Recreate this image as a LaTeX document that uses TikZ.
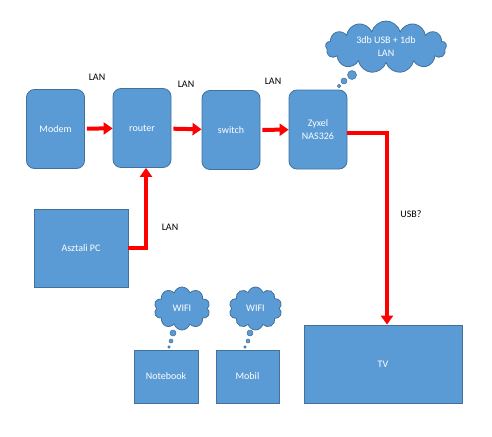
\documentclass[tikz,border=0pt]{standalone}
\usepackage{fontspec}
\setmainfont{Carlito}
\usetikzlibrary{arrows.meta, shapes.symbols, positioning, calc}
\definecolor{officeblue}{HTML}{5B9BD5}
\definecolor{officeedge}{HTML}{41719C}

\begin{document}
\begin{tikzpicture}[
	x=1pt, y=-1pt,
	devbox/.style={rectangle, draw=officeedge, line width=.8pt, fill=officeblue, text=white, rounded corners=8pt, minimum height=79pt, minimum width=58pt, inner sep=0pt, align=center, font=\fontsize{10}{13}\selectfont},
	flatbox/.style={devbox, rounded corners=0pt},
	thought/.style={cloud, cloud puffs=13, aspect=2.3, draw=officeedge, line width=.8pt, fill=officeblue, text=white, inner sep=0pt, align=center, font=\fontsize{10}{13}\selectfont},
	bubble/.style={circle, draw=officeedge, line width=.5pt, fill=officeblue, inner sep=0pt},
	arrow/.style={-{Triangle[length=9pt, width=12pt]}, red, line width=4pt},
	lbl/.style={font=\fontsize{10}{12}\selectfont, inner sep=0pt}
	]
	\useasboundingbox (0,0) rectangle (492,436);

	\node[devbox] (modem) at (55.5,129) {Modem};
	\node[devbox] (router) at (142,128) {router};
	\node[devbox] (switch) at (231,130) {switch};
	\node[devbox] (zyxel) at (318,129.5) {Zyxel\\NAS326};
	\node[flatbox, minimum width=94pt, minimum height=78pt] (pc) at (81,248) {Asztali PC};
	\node[flatbox, minimum width=64pt, minimum height=53pt] (notebook) at (166,376.5) {Notebook};
	\node[flatbox, minimum width=63pt, minimum height=53pt] (mobil) at (247.5,376.5) {Mobil};
	\node[flatbox, minimum width=158pt, minimum height=78pt] (tv) at (383,364) {TV};

	% LAN cables
	\draw[arrow, shorten <=2pt] (modem) -- (router);
	\draw[arrow, shorten <=2pt] (router) -- (switch);
	\draw[arrow, shorten <=2pt] (switch) -- (zyxel);
	\draw[arrow] (pc.east) -| ([xshift=4pt]router.south);
	\draw[arrow] ([yshift=-3pt]zyxel.east) -| ([xshift=4pt]tv.north);

	\node[lbl] (lan1) at (97,77) {LAN};
	\node[lbl] (lan2) at (186,84) {LAN};
	\node[lbl] (lan3) at (273,81) {LAN};
	\node[lbl] (lan4) at (170,227) {LAN};
	\node[lbl] (usb) at (411,214) {USB?};

	% thoughts
	\node[thought, minimum width=121pt, minimum height=52pt] (ports) at (386,47) {3db USB + 1db\\LAN};
	\node[bubble, minimum size=9pt] (pb1) at (352,75) {};
	\node[bubble, minimum size=6pt] (pb2) at (344,81) {};
	\node[bubble, minimum size=3.5pt] (pb3) at (339,86) {};

	\node[thought, cloud puffs=10, aspect=1.3, minimum width=56pt, minimum height=43pt] (wifi1) at (182,308.5) {WIFI};
	\node[bubble, minimum size=6pt] (nb1) at (173,333) {};
	\node[bubble, minimum size=4pt] (nb2) at (171,341) {};
	\node[bubble, minimum size=2.6pt] (nb3) at (169,347) {};

	\node[thought, cloud puffs=10, aspect=1.3, minimum width=53pt, minimum height=43pt] (wifi2) at (255.5,308.5) {WIFI};
	\node[bubble, minimum size=6pt] (mb1) at (250,333) {};
	\node[bubble, minimum size=4pt] (mb2) at (248,341) {};
	\node[bubble, minimum size=2.6pt] (mb3) at (245,347) {};
\end{tikzpicture}
\end{document}
